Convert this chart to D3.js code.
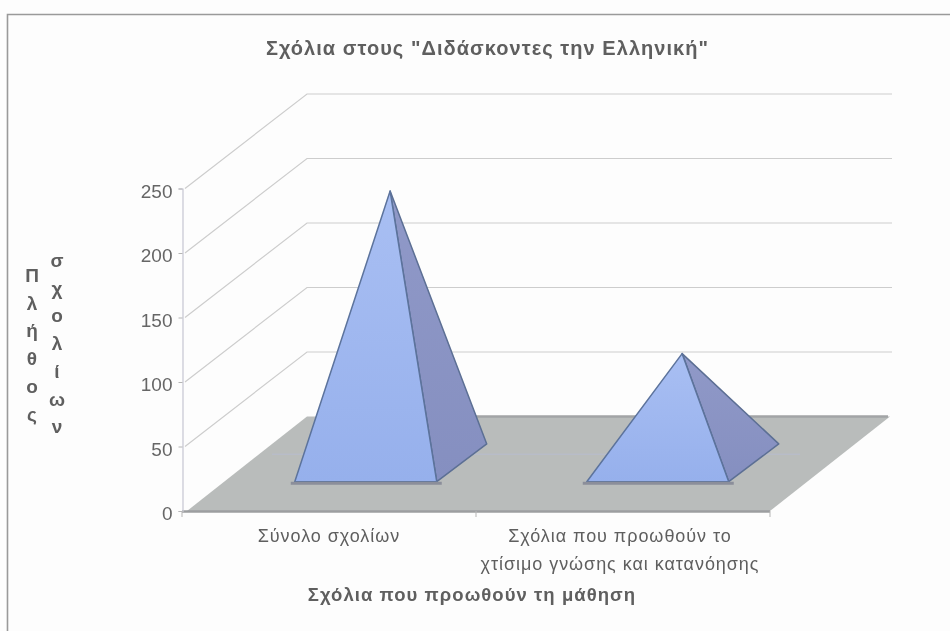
<!DOCTYPE html>
<html>
<head>
<meta charset="utf-8">
<script src="https://cdnjs.cloudflare.com/ajax/libs/d3/7.8.5/d3.min.js"></script>
<style>
  body { margin: 0; background: #fdfdfd; }
  svg { display: block; }
  text { font-family: "Liberation Sans", Arial, sans-serif; fill: #5e5e5e; }
</style>
</head>
<body>
<div id="chart"></div>
<script>
var titleText = 'Σχόλια στους "Διδάσκοντες την Ελληνική"';
var xTitle = "Σχόλια που προωθούν τη μάθηση";
var yTitleLines = ["Πλήθος", "σχολίων"];
var categories = ["Σύνολο σχολίων", "Σχόλια που προωθούν το χτίσιμο γνώσης και κατανόησης"];
var categoryLines = [["Σύνολο σχολίων"], ["Σχόλια που προωθούν το", "χτίσιμο γνώσης και κατανόησης"]];
var values = [211, 85];
var yTicks = [0, 50, 100, 150, 200, 250];

var svgWidth = 950;
var svgHeight = 631;

var svg = d3.select("#chart")
  .append("svg")
  .attr("width", svgWidth)
  .attr("height", svgHeight);

// scan softness
var defs = svg.append("defs");
defs.append("filter").attr("id", "soft")
  .append("feGaussianBlur").attr("stdDeviation", 0.6);

var faceGrad = defs.append("linearGradient")
  .attr("id", "faceGrad")
  .attr("x1", 0).attr("y1", 0).attr("x2", 0).attr("y2", 1);
faceGrad.append("stop").attr("offset", "0%").attr("stop-color", "#a9bff3");
faceGrad.append("stop").attr("offset", "100%").attr("stop-color", "#96b0ec");

var sideGrad = defs.append("linearGradient")
  .attr("id", "sideGrad")
  .attr("x1", 0).attr("y1", 0).attr("x2", 0).attr("y2", 1);
sideGrad.append("stop").attr("offset", "0%").attr("stop-color", "#9099c8");
sideGrad.append("stop").attr("offset", "100%").attr("stop-color", "#858fc0");

var chart = svg.append("g").attr("filter", "url(#soft)");

// Frame, only top and left survive in the scan
chart.append("path")
  .attr("d", "M7.5,631V14.5H950")
  .attr("fill", "none")
  .attr("stroke", "#9a9a9a")
  .attr("stroke-width", 1.6);

// Bars sit on a slightly tighter step than the axis
var x = d3.scaleBand()
  .domain(categories)
  .range([181, 765])
  .paddingInner(0.5137)
  .paddingOuter(0.25685);

var xEdges = d3.scalePoint()
  .domain([0, 1, 2])
  .range([182, 770]);

var y = d3.scaleLinear()
  .domain([0, 250])
  .range([511, 188.5]);

// Oblique projection of the depth axis
var depthX = d3.scaleLinear().domain([0, 1]).range([0, 125]);
var depthY = d3.scaleLinear().domain([0, 1]).range([0, -94.5]);
function px(xPos, depth) { return xPos + depthX(depth); }
function py(value, depth) { return y(value) + depthY(depth); }

var frontDepth = 0.31;
var backDepth = 0.71;
var midDepth = 0.505;

// Gridlines on side and back walls
yTicks.slice(1).forEach(function(t) {
  chart.append("path")
    .attr("d", "M" + (xEdges(0) + 3) + "," + y(t) +
      "L" + px(xEdges(0), 1) + "," + py(t, 1) +
      "H" + (px(xEdges(2), 1) - 3))
    .attr("fill", "none")
    .attr("stroke", "#cdcdcd")
    .attr("stroke-width", 1.2);
});

// Floor
var floorPath = [[px(187, 0), py(0, 0)], [px(182, 1), py(0, 1)], [px(765, 1), py(0, 1)], [px(770, 0), py(0, 0)]];
chart.append("polygon")
  .attr("points", floorPath.join(" "))
  .attr("fill", "#b9bcbb");
chart.append("line")
  .attr("x1", 470).attr("x2", px(763, 1))
  .attr("y1", py(0, 1)).attr("y2", py(0, 1))
  .attr("stroke", "#a2a4a6")
  .attr("stroke-width", 2.5);
chart.append("line")
  .attr("x1", 272).attr("x2", 800)
  .attr("y1", py(0, 0.6)).attr("y2", py(0, 0.6))
  .attr("stroke", "#b8bcc8")
  .attr("stroke-width", 1.5);
chart.append("line")
  .attr("x1", xEdges(0)).attr("x2", xEdges(2))
  .attr("y1", y(0) + 0.5).attr("y2", y(0) + 0.5)
  .attr("stroke", "#9c9ea0")
  .attr("stroke-width", 2.5);

// Y axis
var yAxis = d3.axisLeft(y)
  .tickValues(yTicks)
  .tickSize(4)
  .tickPadding(6);
var yAxisG = chart.append("g")
  .attr("transform", "translate(182.5,0)")
  .call(yAxis);
yAxisG.select(".domain").attr("stroke", "#c6c6d2").attr("stroke-width", 1.2);
yAxisG.selectAll(".tick line").attr("stroke", "#b5b5b5");
yAxisG.selectAll(".tick text")
  .attr("font-size", 19)
  .attr("dy", "0.45em")
  .style("font-family", '"Liberation Sans", Arial, sans-serif')
  .style("fill", "#666");

// Category boundary ticks
xEdges.domain().forEach(function(t) {
  chart.append("line")
    .attr("x1", xEdges(t)).attr("x2", xEdges(t))
    .attr("y1", y(0)).attr("y2", y(0) + 6)
    .attr("stroke", "#b5b5b5");
});

// Pyramids
var bars = chart.selectAll(".pyramid")
  .data(values)
  .enter()
  .append("g")
  .attr("class", "pyramid");

bars.each(function(d, i) {
  var g = d3.select(this);
  var left = x(categories[i]);
  var right = left + x.bandwidth();
  var fl = [px(left, frontDepth), py(0, frontDepth)];
  var fr = [px(right, frontDepth), py(0, frontDepth)];
  var br = [px(right, backDepth), py(0, backDepth)];
  var apex = [px((left + right) / 2, midDepth), py(d, midDepth)];

  g.append("polygon")
    .attr("points", [apex, fr, br].join(" "))
    .attr("fill", "url(#sideGrad)")
    .attr("stroke", "#5c6f94")
    .attr("stroke-width", 1.5)
    .attr("stroke-linejoin", "round");
  g.append("polygon")
    .attr("points", [apex, fl, fr].join(" "))
    .attr("fill", "url(#faceGrad)")
    .attr("stroke", "#5c739c")
    .attr("stroke-width", 1.5)
    .attr("stroke-linejoin", "round");
  g.append("line")
    .attr("x1", fl[0] - 4).attr("x2", fr[0] + 5)
    .attr("y1", fl[1] + 1.5).attr("y2", fl[1] + 1.5)
    .attr("stroke", "#8b8e9a")
    .attr("stroke-width", 3);
});

// Titles
chart.append("text")
  .attr("x", 487.5)
  .attr("y", 55)
  .attr("text-anchor", "middle")
  .attr("font-size", 20)
  .attr("font-weight", "bold")
  .attr("letter-spacing", 1.05)
  .text(titleText);

chart.append("text")
  .attr("x", 472)
  .attr("y", 601)
  .attr("text-anchor", "middle")
  .attr("font-size", 18.5)
  .attr("font-weight", "bold")
  .attr("letter-spacing", 1.05)
  .text(xTitle);

// Category labels, wrapped like the original
categoryLines.forEach(function(lines, i) {
  var cx = x(categories[i]) + x.bandwidth() / 2;
  lines.forEach(function(line, j) {
    chart.append("text")
      .attr("x", cx + 2 - i)
      .attr("y", 542 + j * 27.5)
      .attr("text-anchor", "middle")
      .attr("font-size", 18)
      .attr("letter-spacing", 0.95)
      .text(line);
  });
});

// Stacked y title, one letter per row in two columns
yTitleLines.forEach(function(line, col) {
  var colX = 32 + col * 25;
  var startY = 282 - col * 15;
  Array.from(line).forEach(function(ch, k) {
    chart.append("text")
      .attr("x", colX)
      .attr("y", startY + k * 27.7)
      .attr("text-anchor", "middle")
      .attr("font-size", 19)
      .attr("font-weight", "bold")
      .text(ch);
  });
});
</script>
</body>
</html>
